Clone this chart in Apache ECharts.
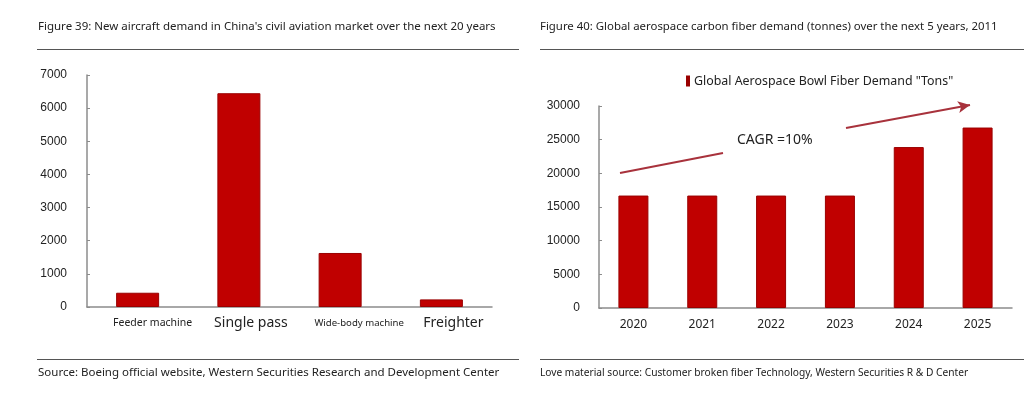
<!DOCTYPE html>
<html>
<head>
<meta charset="utf-8">
<script src="https://cdn.jsdelivr.net/npm/echarts@6/dist/echarts.min.js"></script>
<style>
  html, body { margin: 0; padding: 0; background: #fff; }
  #chart { width: 1024px; height: 396px; }
</style>
</head>
<body>
<div id="chart"></div>
<script>
// left panel: new aircraft demand
const aircraftTypes = ['Feeder machine', 'Single pass', 'Wide-body machine', 'Freighter']
const aircraftLabelStyle = ['f', 'b', 'w', 'b']
const aircraftDemand = [430, 6450, 1630, 230]

// right panel: carbon fiber demand
const years = ['2020', '2021', '2022', '2023', '2024', '2025']
const fiberDemand = [16700, 16700, 16700, 16700, 23900, 26800]
const fiberName = 'Global Aerospace Bowl Fiber Demand "Tons"'

const RED = '#c00000'
const AXIS = '#8c8c8c'
const FONT = '"Noto Sans", "Liberation Sans", sans-serif'
const NUMFONT = '"Liberation Sans", Arial, sans-serif'

const chart = echarts.init(document.getElementById('chart'))

const rule = (x1, x2, y) => ({
  type: 'line',
  shape: { x1, y1: y, x2, y2: y },
  style: { stroke: '#555', lineWidth: 1 }
})
const text = (x, y, t, size) => ({
  type: 'text',
  left: x,
  top: y,
  style: { text: t, fill: '#222', font: `${size}px ${FONT}` }
})

chart.setOption({
  backgroundColor: '#fff',
  animation: false,
  textStyle: { fontFamily: FONT },
  legend: {
    left: 681,
    top: 70,
    icon: 'rect',
    itemWidth: 2,
    itemHeight: 9,
    itemGap: 9,
    data: [fiberName],
    textStyle: { fontSize: 12.4, color: '#222', fontFamily: FONT }
  },
  grid: [
    { left: 87, right: 532, top: 75, bottom: 89 },
    { left: 599, right: 12, top: 106, bottom: 88 }
  ],
  xAxis: [
    {
      gridIndex: 0,
      type: 'category',
      data: aircraftTypes,
      axisLine: { lineStyle: { color: AXIS, width: 1.5 } },
      axisTick: { inside: true, length: 4, lineStyle: { color: AXIS } },
      axisLabel: {
        interval: 0,
        hideOverlap: false,
        margin: 6,
        formatter: (v, i) => '{' + aircraftLabelStyle[i] + '|' + v + '}',
        rich: {
          f: { fontSize: 10.5, lineHeight: 20, color: '#222', fontFamily: FONT, padding: [0, 0, 0, 30] },
          w: { fontSize: 9.6, lineHeight: 20, color: '#222', fontFamily: FONT, padding: [0, 0, 0, 38] },
          b: { fontSize: 14, lineHeight: 20, color: '#222', fontFamily: FONT, padding: [0, 0, 0, 24] }
        }
      }
    },
    {
      gridIndex: 1,
      type: 'category',
      data: years,
      axisLine: { lineStyle: { color: AXIS, width: 1.5 } },
      axisTick: { inside: true, length: 4, lineStyle: { color: AXIS } },
      axisLabel: { interval: 0, margin: 11, fontSize: 12, color: '#222', fontFamily: FONT }
    }
  ],
  yAxis: [
    {
      gridIndex: 0,
      type: 'value',
      min: 0,
      max: 7000,
      interval: 1000,
      splitLine: { show: false },
      axisLine: { show: true, lineStyle: { color: AXIS, width: 1.5 } },
      axisTick: { show: true, inside: true, length: 3, lineStyle: { color: AXIS } },
      axisLabel: { margin: 20, fontSize: 12, color: '#222', fontFamily: NUMFONT, formatter: (v) => String(v) }
    },
    {
      gridIndex: 1,
      type: 'value',
      min: 0,
      max: 30000,
      interval: 5000,
      splitLine: { show: false },
      axisLine: { show: true, lineStyle: { color: AXIS, width: 1.5 } },
      axisTick: { show: true, inside: true, length: 3, lineStyle: { color: AXIS } },
      axisLabel: { margin: 19, fontSize: 12, color: '#222', fontFamily: NUMFONT, formatter: (v) => String(v) }
    }
  ],
  series: [
    {
      type: 'bar',
      xAxisIndex: 0,
      yAxisIndex: 0,
      data: aircraftDemand,
      barWidth: 43,
      itemStyle: { color: RED, borderColor: '#9a0000', borderWidth: 1 }
    },
    {
      type: 'bar',
      name: fiberName,
      xAxisIndex: 1,
      yAxisIndex: 1,
      data: fiberDemand,
      barWidth: 30,
      itemStyle: { color: RED, borderColor: '#9a0000', borderWidth: 1 },
      markLine: {
        silent: true,
        label: { show: false },
        lineStyle: { color: '#a8323c', width: 2, type: 'solid' },
        symbolSize: [9, 12],
        data: [
          [{ x: 620, y: 173, symbol: 'none' }, { x: 723, y: 153, symbol: 'none' }],
          [{ x: 846, y: 128, symbol: 'none' }, { x: 970, y: 105, symbol: 'arrow' }]
        ]
      }
    }
  ],
  graphic: [
    text(38, 21, "Figure 39: New aircraft demand in China's civil aviation market over the next 20 years", 11.5),
    text(540, 21, 'Figure 40: Global aerospace carbon fiber demand (tonnes) over the next 5 years, 2011', 11.4),
    rule(37, 519, 49.5),
    rule(540, 1024, 49.5),
    rule(37, 519, 359.5),
    rule(540, 1024, 359.5),
    text(38, 367, 'Source: Boeing official website, Western Securities Research and Development Center', 11.5),
    text(540, 368, 'Love material source: Customer broken fiber Technology, Western Securities R & D Center', 10.2),
    {
      type: 'text',
      left: 737,
      top: 133,
      style: { text: 'CAGR =10%', fill: '#222', font: `14px ${FONT}` }
    }
  ]
})
</script>
</body>
</html>
